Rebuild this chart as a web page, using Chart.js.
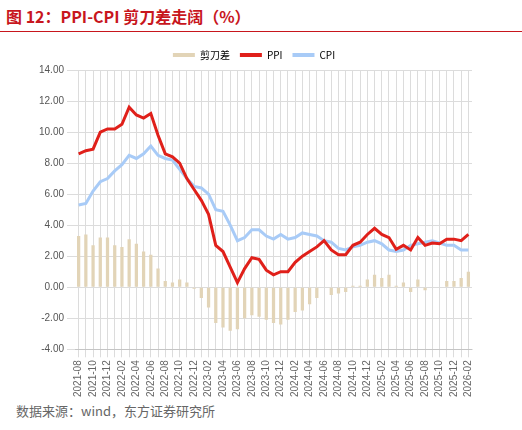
<!DOCTYPE html>
<html>
<head>
<meta charset="utf-8">
<script src="https://cdn.jsdelivr.net/npm/chart.js@4"></script>
<style>
  body { margin: 0; width: 522px; height: 430px; background: #fff; font-family: "Noto Sans CJK SC", sans-serif; position: relative; }
  #title { position: absolute; left: 6px; top: 4px; font-size: 16px; font-weight: bold; color: #c8161d; }
  #rule { position: absolute; left: 0; top: 31px; width: 522px; height: 1px; background: #c8161d; }
  #wrap { position: absolute; left: 0; top: 40px; width: 522px; height: 360px; }
  #src { position: absolute; left: 16px; top: 401px; font-size: 13px; color: #666; }
</style>
</head>
<body>
<div id="title">图 12：PPI-CPI 剪刀差走阔（%）</div>
<div id="rule"></div>
<div id="wrap"><canvas id="chart"></canvas></div>
<div id="src">数据来源：wind，东方证券研究所</div>
<script>
// months 2021-08 .. 2026-02
var months = [];
(function() {
    var y = 2021, m = 8;
    while (y < 2026 || (y === 2026 && m <= 2)) {
        months.push(y + '-' + (m < 10 ? '0' + m : m));
        m++;
        if (m > 12) { m = 1; y++; }
    }
})();

var ppi = [8.6, 8.8, 8.9, 10.0, 10.2,
    10.2, 10.5, 11.6, 11.1, 10.9, 11.2, 9.8, 8.6, 8.4, 8.0, 7.0, 6.3,
    5.6, 4.7, 2.7, 2.3, 1.3, 0.3, 1.2, 1.9, 1.8, 1.1, 0.8, 1.0,
    1.0, 1.6, 2.0, 2.3, 2.6, 3.0, 2.4, 2.1, 2.1, 2.7, 2.9, 3.4,
    3.8, 3.4, 3.2, 2.45, 2.7, 2.4, 3.2, 2.7, 2.85, 2.8, 3.1, 3.1,
    3.0, 3.4];
var cpi = [5.3, 5.4, 6.2, 6.8, 7.0,
    7.5, 7.9, 8.5, 8.3, 8.6, 9.1, 8.5, 8.3, 8.2, 7.6, 7.0, 6.5,
    6.4, 6.0, 5.0, 4.9, 4.0, 3.0, 3.2, 3.7, 3.7, 3.3, 3.1, 3.4,
    3.1, 3.2, 3.5, 3.4, 3.3, 3.0, 2.9, 2.5, 2.4, 2.6, 2.7, 2.9,
    3.0, 2.8, 2.4, 2.3, 2.4, 2.7, 2.8, 2.9, 3.0, 2.85, 2.7, 2.7,
    2.4, 2.4];
var gap = [3.3, 3.4, 2.7, 3.2, 3.2,
    2.7, 2.6, 3.1, 2.8, 2.3, 2.1, 1.2, 0.4, 0.3, 0.5, 0.3, -0.1,
    -0.7, -1.3, -2.3, -2.6, -2.8, -2.7, -2.0, -1.8, -1.9, -2.1, -2.3, -2.4,
    -2.1, -1.6, -1.5, -1.1, -0.7, 0, -0.5, -0.4, -0.3, 0.1, 0.1, 0.5,
    0.8, 0.6, 0.8, 0.1, 0.3, -0.3, 0.5, -0.2, 0, 0, 0.4, 0.4,
    0.6, 1.0];

var font = { family: 'Liberation Sans, Arial, sans-serif', size: 10 };

new Chart(document.getElementById('chart').getContext('2d'), {
    type: 'bar',
    data: {
        labels: months,
        datasets: [{
            label: '剪刀差',
            data: gap,
            backgroundColor: '#e2d4b7',
            barPercentage: 0.45,
            categoryPercentage: 1,
            order: 3
        }, {
            type: 'line',
            label: 'PPI',
            data: ppi,
            borderColor: '#e0201a',
            backgroundColor: '#e0201a',
            borderWidth: 3,
            pointRadius: 0,
            lineTension: 0,
            order: 1
        }, {
            type: 'line',
            label: 'CPI',
            data: cpi,
            borderColor: '#a8cbf7',
            backgroundColor: '#a8cbf7',
            borderWidth: 3,
            pointRadius: 0,
            lineTension: 0,
            order: 2
        }]
    },
    options: {
        animation: false,
        responsive: true,
        maintainAspectRatio: false,
        layout: { padding: { left: 36, right: 50, top: 0, bottom: 0 } },
        plugins: {
            legend: {
                labels: {
                    boxWidth: 22, boxHeight: 4, font: { family: 'Noto Sans CJK SC', size: 10 }, color: '#555',
                    generateLabels: function(chart) {
                        return chart.data.datasets.map(function(ds, i) {
                            return { text: ds.label, fillStyle: ds.backgroundColor, strokeStyle: ds.backgroundColor, lineWidth: 0, datasetIndex: i };
                        });
                    }
                }
            },
            tooltip: { enabled: false }
        },
        scales: {
            x: {
                offset: true,
                grid: { color: '#dcdcdc', offset: false },
                ticks: {
                    autoSkip: false, maxRotation: 90, minRotation: 90, font: font, color: '#666',
                    callback: function(v, i) { return i % 2 === 0 ? months[i] : ''; }
                }
            },
            y: {
                min: -4, max: 14,
                grid: { color: '#dcdcdc' },
                border: { display: false },
                ticks: { stepSize: 2, font: font, color: '#555', callback: function(v) { return v.toFixed(2); } }
            }
        }
    }
});
</script>
</body>
</html>
